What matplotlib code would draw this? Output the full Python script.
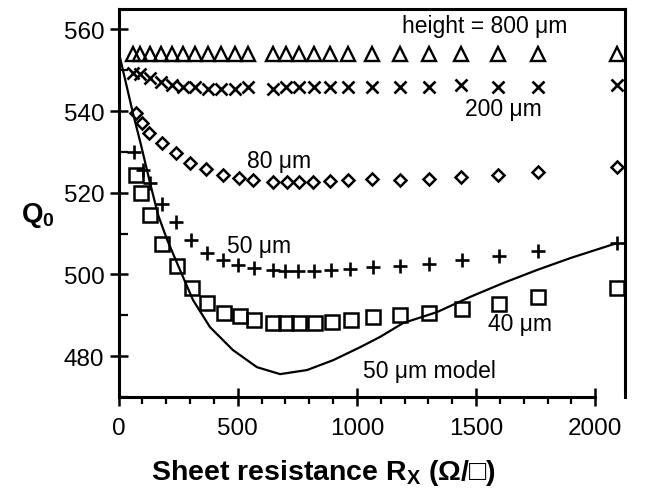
import matplotlib
matplotlib.use('Agg')
import matplotlib.pyplot as plt
from matplotlib.ticker import MultipleLocator, FixedLocator

plt.rcParams['font.family'] = ['Liberation Sans', 'DejaVu Sans']
plt.rcParams['mathtext.fontset'] = 'custom'
plt.rcParams['mathtext.rm'] = 'Liberation Sans'
plt.rcParams['mathtext.bf'] = 'Liberation Sans:bold'

# ---- data ----
rx_800 = [61, 90, 132, 178, 225, 271, 321, 376, 430, 489, 543, 648, 703, 757, 820,
          888, 963, 1064, 1181, 1303, 1437, 1592, 1760, 2092]
q_800 = [554.0, 554.0, 554.0, 554.0, 554.0, 554.0, 554.0, 554.0, 554.0, 554.0, 554.0,
         554.0, 554.0, 554.0, 554.0, 554.0, 554.0, 554.0, 554.0, 554.0, 554.0, 554.0,
         554.0, 554.0]

rx_200 = [61, 90, 132, 178, 225, 271, 321, 376, 430, 489, 543, 648, 703, 757, 820,
          888, 963, 1064, 1181, 1303, 1437, 1592, 1760, 2092]
q_200 = [549.4, 549.0, 548.2, 547.2, 546.3, 545.8, 545.8, 545.3, 545.3, 545.3, 545.8,
         545.3, 545.8, 545.8, 545.8, 545.8, 545.8, 545.8, 545.8, 545.8, 546.3, 546.0,
         546.0, 546.5]

rx_80 = [73, 99, 128, 183, 241, 300, 367, 439, 506, 564, 648, 707, 757, 816, 888,
         963, 1064, 1181, 1303, 1437, 1592, 1760, 2092]
q_80 = [539.6, 537.2, 534.7, 532.3, 529.8, 527.4, 525.9, 524.4, 523.7, 523.2, 522.7,
        522.7, 522.7, 522.7, 522.9, 523.2, 523.4, 523.2, 523.3, 523.8, 524.4, 525.2,
        526.4]

rx_50 = [65, 103, 132, 183, 243, 305, 371, 437, 503, 567, 648, 700, 755, 820, 892,
         971, 1068, 1181, 1303, 1441, 1597, 1760, 2092]
q_50 = [530.1, 525.6, 522.5, 517.3, 512.9, 508.5, 505.3, 503.6, 502.3, 501.6, 501.1,
        500.8, 500.8, 500.8, 501.1, 501.3, 501.8, 502.1, 502.6, 503.6, 504.5, 505.8,
        507.7]

rx_40 = [73, 94, 132, 183, 245, 308, 371, 443, 510, 569, 648, 703, 757, 825, 896,
         976, 1068, 1181, 1303, 1441, 1597, 1760, 2092]
q_40 = [524.4, 520.0, 514.6, 507.5, 502.1, 496.7, 493.0, 490.6, 489.8, 488.8, 488.1,
        488.1, 488.1, 488.1, 488.3, 488.8, 489.5, 490.1, 490.6, 491.5, 492.8, 494.5,
        496.7]

rx_model = [0, 61, 94, 132, 166, 204, 258, 313, 384, 480, 581, 678, 791, 900, 1014,
            1097, 1194, 1337, 1475, 1614, 1756, 1895, 2092]
q_model = [554.7, 539.4, 531.8, 522.5, 514.6, 508.5, 501.1, 493.7, 487.1, 481.5, 477.3,
           475.6, 476.6, 479.0, 482.2, 484.7, 488.1, 490.8, 494.5, 497.9, 501.1, 504.0,
           507.7]

x_ticks = [0, 500, 1000, 1500, 2000]
x_minor = [100, 200, 300, 400, 600, 700, 800, 900, 1100, 1200, 1300, 1400,
           1600, 1700, 1800, 1900]
y_ticks = [480, 500, 520, 540, 560]

# ---- figure ----
W, H = 652, 502
fig = plt.figure(figsize=(W / 100, H / 100), dpi=100)
ax = fig.add_axes([118.5 / W, 1 - 398 / H, (625 - 118.5) / W, (398 - 10) / H])

ax.plot(rx_model, q_model, color='black', lw=1.6, zorder=2)
mk = dict(color='black', ls='none', mfc='none', zorder=3)
ax.plot(rx_800, q_800, marker='^', ms=9.5, mew=1.7, **mk)
ax.plot(rx_200, q_200, marker='x', ms=9, mew=1.9, **mk)
ax.plot(rx_80, q_80, marker='D', ms=6.4, mew=1.8, **mk)
ax.plot(rx_50, q_50, marker='+', ms=10.5, mew=1.9, **mk)
ax.plot(rx_40, q_40, marker='s', ms=9.5, mew=1.8, **mk)

ax.set_xlim(0, 2125)
ax.set_ylim(470, 565)
ax.set_xticks(x_ticks)
ax.set_yticks(y_ticks)
ax.xaxis.set_minor_locator(FixedLocator(x_minor))
ax.yaxis.set_minor_locator(MultipleLocator(10))

for s in ax.spines.values():
    s.set_linewidth(2.2)
ax.spines['bottom'].set_bounds(0, 2000)

ax.tick_params(axis='both', which='major', direction='inout', length=12.5, width=1.8,
               labelsize=17.5, colors='black')
ax.tick_params(axis='x', which='major', pad=8)
ax.tick_params(axis='y', which='major', pad=4)
ax.tick_params(axis='x', which='minor', direction='out', length=5, width=1.6)
ax.tick_params(axis='y', which='minor', direction='in', length=6.5, width=1.6)

# annotations
fs = 16.5
ax.text(1191, 559.3, 'height = 800 μm', fontsize=fs, ha='left', va='baseline')
ax.text(1454, 539.1, '200 μm', fontsize=fs, ha='left', va='baseline')
ax.text(539, 526.4, '80 μm', fontsize=fs, ha='left', va='baseline')
ax.text(455, 505.5, '50 μm', fontsize=fs, ha='left', va='baseline')
ax.text(1550, 486.4, '40 μm', fontsize=fs, ha='left', va='baseline')
ax.text(1026, 474.8, '50 μm model', fontsize=fs, ha='left', va='baseline')

# axis labels
fig.text(323 / W, 1 - 480 / H, r'Sheet resistance R$_\mathbf{X}$ (Ω/□)', fontsize=20.5,
         fontweight='bold', ha='center', va='baseline')
fig.text(21 / W, 1 - 222 / H, r'Q$_\mathbf{0}$', fontsize=20, fontweight='bold',
         ha='left', va='baseline')

fig.savefig('out.png', dpi=100)
